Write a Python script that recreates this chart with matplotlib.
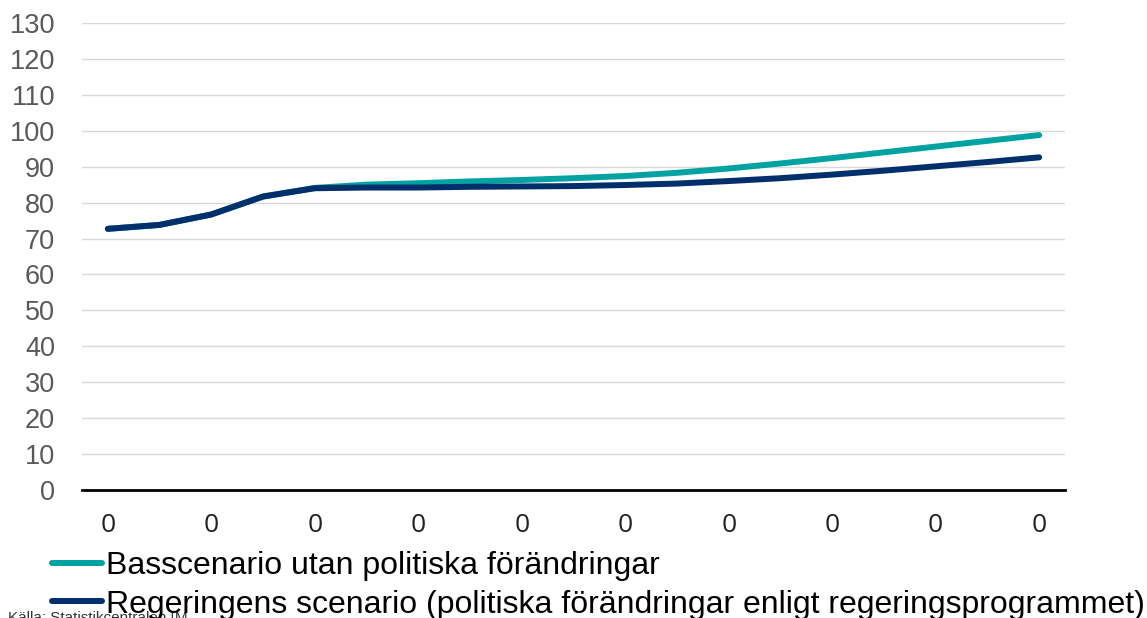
import matplotlib
matplotlib.use("Agg")
import matplotlib.pyplot as plt
from matplotlib import font_manager

# Index values per period (19 periods, every second one labelled)
periods = list(range(19))
tick_labels = ["0"] * 10
base_scenario = [72.7, 73.8, 76.7, 81.7, 84.1, 85.0, 85.4, 85.9, 86.3, 86.8,
                 87.4, 88.3, 89.5, 90.9, 92.4, 94.0, 95.6, 97.2, 98.8]
gov_scenario = [72.7, 73.8, 76.7, 81.7, 84.0, 84.2, 84.2, 84.4, 84.5, 84.6,
                84.9, 85.3, 86.0, 86.8, 87.8, 88.9, 90.1, 91.3, 92.6]
labels = ["Basscenario utan politiska förändringar",
          "Regeringens scenario (politiska förändringar enligt regeringsprogrammet)"]
source = "Källa: Statistikcentralen [M"

TEAL = "#00A3A1"
NAVY = "#002F6C"

names = {f.name for f in font_manager.fontManager.ttflist}
narrow = "Liberation Sans Narrow" if "Liberation Sans Narrow" in names else "Liberation Sans"

fig = plt.figure(figsize=(11.47, 6.18), dpi=100)
ax = fig.add_axes([82 / 1147, 1 - 490 / 618, (1065 - 82) / 1147, (490 - 23) / 618])

ax.plot(periods, base_scenario, color=TEAL, lw=4.3, solid_capstyle="round",
        solid_joinstyle="round", label=labels[0], zorder=3)
ax.plot(periods, gov_scenario, color=NAVY, lw=4.3, solid_capstyle="round",
        solid_joinstyle="round", label=labels[1], zorder=4)

ax.set_xlim(-0.5, 18.5)
ax.set_ylim(0, 130)
ax.set_yticks(range(0, 131, 10))
ax.set_yticklabels([str(v) for v in range(0, 131, 10)],
                   fontsize=19.5, color="#595959", family="Liberation Sans")
ax.set_xticks(periods[::2])
ax.set_xticklabels(tick_labels, fontsize=19, color="#222222", family="Open Sans")
ax.tick_params(axis="both", length=0)
ax.tick_params(axis="y", pad=19.5)
ax.tick_params(axis="x", pad=16.5)

ax.grid(True, axis="y", color="#D9D9D9", lw=1.0)
ax.set_axisbelow(True)
for s in ["top", "right", "left"]:
    ax.spines[s].set_visible(False)
ax.spines["bottom"].set_color("black")
ax.spines["bottom"].set_linewidth(2.0)
ax.spines["bottom"].set_zorder(5)

fig.text(8 / 1147, 1 - 611 / 618, source, fontsize=11, color="#333333",
         family="Liberation Sans", va="top", ha="left", zorder=1)

h, l = ax.get_legend_handles_labels()
leg = fig.legend(h, l, loc="upper left", bbox_to_anchor=(52 / 1147, 1 - 551 / 618),
                 frameon=False, prop={"family": narrow, "size": 23},
                 handlelength=1.55, handletextpad=0.15, labelspacing=0.27,
                 borderaxespad=0, borderpad=0)

fig.savefig("out.png", dpi=100)
